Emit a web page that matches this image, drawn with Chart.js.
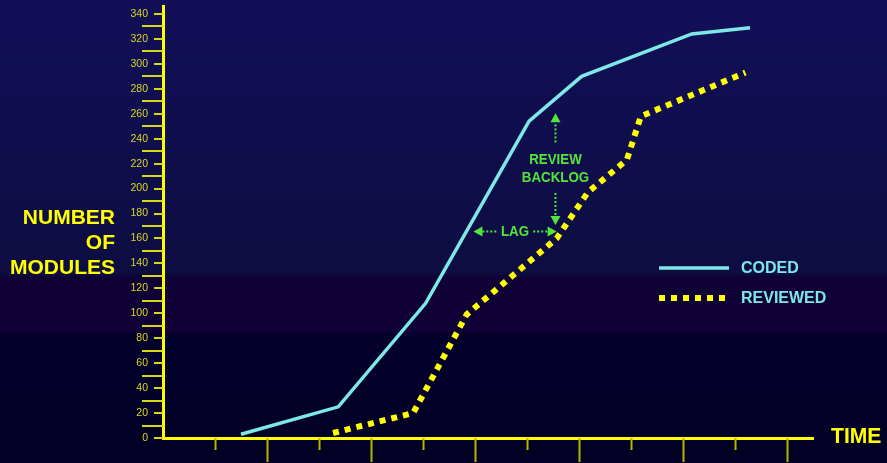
<!DOCTYPE html>
<html>
<head>
<meta charset="utf-8">
<script src="https://cdn.jsdelivr.net/npm/chart.js@4/dist/chart.umd.min.js"></script>
<style>
  html, body { margin: 0; padding: 0; background: #04002a; }
  #wrap { width: 887px; height: 463px; position: relative; }
</style>
</head>
<body>
<div id="wrap"><canvas id="c" width="887" height="463"></canvas></div>
<script>
// Modules coded and reviewed over time
const codedTime      = [1.5, 3.37, 5.05, 7.04, 8.05, 10.17, 11.29];
const codedModules   = [3, 25, 108, 254, 290, 324, 329];
const reviewedTime    = [3.27, 4.81, 5.84, 7.57, 8.17, 8.92, 9.19, 11.2];
const reviewedModules = [4, 20, 99, 160, 197, 223, 258, 293];

const seriesNames = ['CODED', 'REVIEWED'];
const yTitleLines = ['NUMBER', 'OF', 'MODULES'];
const xTitle = 'TIME';
const timeTicks = [1, 2, 3, 4, 5, 6, 7, 8, 9, 10, 11, 12];

const YELLOW = '#ffff00';
const CYAN = '#7de8e6';
const GREEN = '#52e63a';
const FONT = '"Liberation Sans", Arial, sans-serif';

const toPoints = (xs, ys) => xs.map((x, i) => ({ x, y: ys[i] }));

// Slide background: deep blue fading down, a violet band, then near-black navy
const backgroundPlugin = {
  id: 'background',
  beforeDraw(chart) {
    const { ctx, width, height } = chart;
    const g = ctx.createLinearGradient(0, 0, 0, height);
    g.addColorStop(0, '#120f58');
    g.addColorStop(0.59, '#0d0d42');
    g.addColorStop(0.60, '#0f0036');
    g.addColorStop(0.718, '#0f0036');
    g.addColorStop(0.72, '#03002c');
    g.addColorStop(1, '#020024');
    ctx.save();
    ctx.fillStyle = g;
    ctx.fillRect(0, 0, width, height);
    ctx.restore();
  }
};

// Tick marks on both axes plus the axis titles
const axisDecorPlugin = {
  id: 'axisDecor',
  afterDraw(chart) {
    const { ctx, scales: { x, y }, chartArea } = chart;
    ctx.save();
    // y ticks: short at labelled values, long at the ones in between
    ctx.strokeStyle = '#d8d814';
    ctx.lineWidth = 2;
    y.ticks.forEach(t => {
      const py = Math.round(y.getPixelForValue(t.value));
      ctx.beginPath();
      ctx.moveTo(chartArea.left - 9, py);
      ctx.lineTo(chartArea.left, py);
      ctx.stroke();
      const mid = t.value + 10;
      if (mid < y.max) {
        const pm = Math.round(y.getPixelForValue(mid));
        ctx.beginPath();
        ctx.moveTo(chartArea.left - 21, pm);
        ctx.lineTo(chartArea.left, pm);
        ctx.stroke();
      }
    });
    // x ticks: alternating short and long
    ctx.strokeStyle = '#b8b400';
    timeTicks.forEach(v => {
      const px = Math.round(x.getPixelForValue(v)) + 0.5;
      const len = v % 2 === 0 ? 24 : 12;
      ctx.beginPath();
      ctx.moveTo(px, chartArea.bottom);
      ctx.lineTo(px, chartArea.bottom + len);
      ctx.stroke();
    });
    // titles
    ctx.fillStyle = YELLOW;
    ctx.font = 'bold 21px ' + FONT;
    ctx.textAlign = 'right';
    ctx.textBaseline = 'alphabetic';
    yTitleLines.forEach((s, i) => ctx.fillText(s, 115, 224 + i * 25));
    ctx.textAlign = 'left';
    ctx.font = 'bold 22px ' + FONT;
    ctx.translate(chartArea.right + 18, chartArea.bottom + 5);
    ctx.scale(0.96, 1);
    ctx.fillText(xTitle, 0, 0);
    ctx.restore();
  }
};

// Series key drawn with each dataset's own stroke style
const keyPlugin = {
  id: 'seriesKey',
  afterDraw(chart) {
    const { ctx } = chart;
    ctx.save();
    chart.data.datasets.forEach((ds, i) => {
      const yPos = 268 + i * 30;
      ctx.strokeStyle = ds.borderColor;
      ctx.lineWidth = ds.borderWidth;
      ctx.setLineDash(ds.borderDash || []);
      ctx.lineCap = 'butt';
      ctx.beginPath();
      ctx.moveTo(659, yPos);
      ctx.lineTo(729, yPos);
      ctx.stroke();
      ctx.setLineDash([]);
      ctx.fillStyle = CYAN;
      ctx.font = 'bold 16px ' + FONT;
      ctx.textBaseline = 'middle';
      ctx.textAlign = 'left';
      ctx.fillText(ds.label, 741, yPos + 1);
    });
    ctx.restore();
  }
};

// "Review backlog" and "lag" call-outs placed in data units
const calloutPlugin = {
  id: 'callouts',
  afterDatasetsDraw(chart) {
    const { ctx, scales: { x, y } } = chart;
    const X = v => x.getPixelForValue(v);
    const Y = v => y.getPixelForValue(v);
    ctx.save();
    ctx.strokeStyle = GREEN;
    ctx.fillStyle = GREEN;
    ctx.lineWidth = 2;
    ctx.setLineDash([2, 2]);
    const dotted = (x1, y1, x2, y2) => {
      ctx.beginPath(); ctx.moveTo(x1, y1); ctx.lineTo(x2, y2); ctx.stroke();
    };
    const head = (tx, ty, dx, dy) => {
      // triangle pointing in direction (dx, dy)
      const L = 9, W = 5;
      ctx.beginPath();
      ctx.moveTo(tx, ty);
      ctx.lineTo(tx - dx * L - dy * W, ty - dy * L + dx * W);
      ctx.lineTo(tx - dx * L + dy * W, ty - dy * L - dx * W);
      ctx.closePath();
      ctx.fill();
    };
    const bx = Math.round(X(7.54)) + 0.5;
    // up arrow toward the coded line
    dotted(bx, Y(237), bx, Y(253));
    head(bx, Y(260.5), 0, -1);
    // down arrow toward the reviewed line
    dotted(bx, Y(196.5), bx, Y(177));
    head(bx, Y(170.8), 0, 1);
    // lag arrows
    const ly = Math.round(Y(166)) + 0.5;
    dotted(X(6.14), ly, X(6.42), ly);
    head(X(5.97), ly, -1, 0);
    dotted(X(7.12), ly, X(7.40), ly);
    head(X(7.57), ly, 1, 0);
    ctx.setLineDash([]);
    ctx.font = 'bold 15.5px ' + FONT;
    ctx.textAlign = 'center';
    ctx.textBaseline = 'middle';
    const label = (s, px, py) => {
      ctx.save();
      ctx.translate(px, py);
      ctx.scale(0.86, 1);
      ctx.fillText(s, 0, 0);
      ctx.restore();
    };
    label('REVIEW', bx, Y(223));
    label('BACKLOG', bx, Y(208.5));
    label('LAG', X(6.77), ly);
    ctx.restore();
  }
};

// keep the plot frame fixed: no extra room reserved for edge labels
const noEdgePadding = scale => {
  scale.paddingTop = 0;
  scale.paddingBottom = 0;
  scale.paddingLeft = 0;
  scale.paddingRight = 0;
};

new Chart(document.getElementById('c'), {
  type: 'line',
  data: {
    datasets: [
      {
        label: seriesNames[0],
        data: toPoints(codedTime, codedModules),
        borderColor: CYAN,
        borderWidth: 3.5,
        tension: 0,
        pointRadius: 0,
        fill: false
      },
      {
        label: seriesNames[1],
        data: toPoints(reviewedTime, reviewedModules),
        borderColor: YELLOW,
        borderWidth: 6,
        borderDash: [6, 6],
        borderCapStyle: 'butt',
        tension: 0,
        pointRadius: 0,
        fill: false
      }
    ]
  },
  options: {
    responsive: false,
    animation: false,
    events: [],
    layout: { padding: { top: 6, right: 74, left: 0, bottom: 0 } },
    plugins: { legend: { display: false }, tooltip: { enabled: false }, title: { display: false } },
    scales: {
      x: {
        type: 'linear',
        min: 0,
        max: 12.5,
        ticks: { display: false },
        grid: { display: false, drawTicks: false },
        border: { display: true, color: YELLOW, width: 3 },
        afterFit(scale) { scale.height = 25; noEdgePadding(scale); }
      },
      y: {
        type: 'linear',
        min: 0,
        max: 346.4,
        ticks: {
          stepSize: 20,
          includeBounds: false,
          padding: 15,
          color: '#d8d820',
          font: { family: FONT, size: 10.5 }
        },
        grid: { display: false, drawTicks: false },
        border: { display: true, color: YELLOW, width: 3 },
        afterFit(scale) { scale.width = 163; noEdgePadding(scale); }
      }
    }
  },
  plugins: [backgroundPlugin, axisDecorPlugin, keyPlugin, calloutPlugin]
});
</script>
</body>
</html>
